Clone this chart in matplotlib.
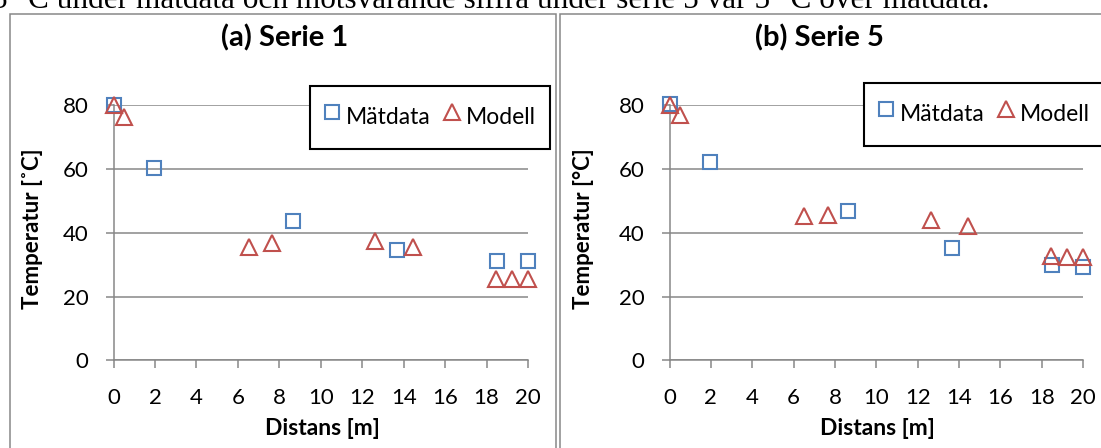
import matplotlib
matplotlib.use("Agg")
import matplotlib.pyplot as plt
from matplotlib.lines import Line2D
from matplotlib.patches import Rectangle
from matplotlib.transforms import Bbox, TransformedBbox

W, H = 1101, 448
DPI = 100

# Sensor / model node positions along the pipe [m]
distans_matdata = [0, 1.95, 8.65, 13.66, 18.5, 20]
distans_modell = [0, 0.52, 6.52, 7.66, 12.63, 14.45, 18.44, 19.25, 20]

# Temperatures [°C]
serie1_matdata = [80, 60.3, 43.8, 34.6, 31.2, 31.2]
serie1_modell = [80, 76.2, 35.6, 36.9, 37.4, 35.5, 25.5, 25.5, 25.5]
serie5_matdata = [80.4, 62.1, 46.8, 35.3, 29.8, 29.3]
serie5_modell = [80, 76.9, 45.2, 45.7, 44.0, 42.2, 32.8, 32.5, 32.3]

x_ticks = list(range(0, 21, 2))
y_ticks = [0, 20, 40, 60, 80]

titles = ["(a) Serie 1", "(b) Serie 5"]
y_labels = ["Temperatur [˚C]", "Temperatur [°C]"]
x_label = "Distans [m]"
legend_labels = ["Mätdata", "Modell"]
caption = "5 °C under mätdata och motsvarande siffra under serie 5 var 5 °C över mätdata."

BLUE = "#4F81BD"
RED = "#C0504D"
GRAY = "#878787"

plt.rcParams["font.family"] = ["Lato", "DejaVu Sans"]


def fx(x):
    return x / W


def fy(y):
    return 1 - y / H


fig = plt.figure(figsize=(W / DPI, H / DPI), dpi=DPI)

# pixel layout of each chart: axis x0, x1, frame left/right, title x, ylabel x, legend box
panels = [
    dict(ax_x0=113.5, ax_x1=528.0, frame=(9.5, 556.0), title_x=285, ylab_x=33,
         xlab_x=322, leg=(310, 85.7), data=(serie1_matdata, serie1_modell)),
    dict(ax_x0=669.5, ax_x1=1083.0, frame=(560.0, 1112.0), title_x=819, ylab_x=584,
         xlab_x=877, leg=(864, 82.7), data=(serie5_matdata, serie5_modell)),
]

AX_Y0 = 360.3   # pixel row of y = 0
AX_Y1 = 105.3   # pixel row of y = 80

for i, p in enumerate(panels):
    ax = fig.add_axes([fx(p["ax_x0"]), fy(AX_Y0), (p["ax_x1"] - p["ax_x0"]) / W,
                       (AX_Y0 - AX_Y1) / H])
    ax.set_xlim(0, 20)
    ax.set_ylim(0, 80)
    ax.set_xticks(x_ticks)
    ax.set_yticks(y_ticks)
    for s in ("top", "right"):
        ax.spines[s].set_visible(False)
    for s in ("left", "bottom"):
        ax.spines[s].set_color(GRAY)
        ax.spines[s].set_linewidth(1.1)
    ax.yaxis.grid(True, color=GRAY, linewidth=1.1)
    ax.set_axisbelow(True)
    ax.tick_params(axis="both", direction="out", length=5.8, width=1.1,
                   color=GRAY, labelsize=16, labelcolor="black")
    ax.tick_params(axis="x", pad=14.0)
    ax.tick_params(axis="y", pad=12.2)

    mat, mod = p["data"]
    ax.plot(distans_matdata, mat, ls="none", marker="s", ms=10, mfc="none",
            mec=BLUE, mew=1.5, clip_on=False, zorder=3)
    ax.plot(distans_modell, mod, ls="none", marker="^", ms=11, mfc="none",
            mec=RED, mew=1.5, clip_on=False, zorder=4)

    ax.set_ylabel(y_labels[i], fontsize=16, fontweight="bold", va="center")
    ax.yaxis.set_label_coords((p["ylab_x"] - p["ax_x0"]) / (p["ax_x1"] - p["ax_x0"]),
                              (AX_Y0 - 228.5) / (AX_Y0 - AX_Y1))
    ax.set_xlabel(x_label, fontsize=16.5, fontweight="bold", va="center")
    ax.xaxis.set_label_coords((p["xlab_x"] - p["ax_x0"]) / (p["ax_x1"] - p["ax_x0"]),
                              (AX_Y0 - 428.5) / (AX_Y0 - AX_Y1))

    handles = [
        Line2D([], [], ls="none", marker="s", ms=10, mfc="none", mec=BLUE, mew=1.5),
        Line2D([], [], ls="none", marker="^", ms=11, mfc="none", mec=RED, mew=1.5),
    ]
    leg = ax.legend(handles, legend_labels, loc="upper left",
                    bbox_to_anchor=(fx(p["leg"][0]), fy(p["leg"][1])),
                    bbox_transform=fig.transFigure, ncol=2, fontsize=16.5,
                    frameon=True, fancybox=False, edgecolor="black", framealpha=1,
                    borderaxespad=0, borderpad=0.6, handlelength=0.7,
                    handleheight=2.0, handletextpad=0.25, columnspacing=0.6,
                    numpoints=1)
    leg.get_frame().set_linewidth(1.5)
    leg.set_zorder(6)
    # the legend is cut off at the chart border
    clip = TransformedBbox(Bbox.from_extents(fx(p["frame"][0]), 0, fx(p["frame"][1]), 1),
                           fig.transFigure)
    for a in leg.findobj():
        a.set_clip_box(clip)
        a.set_clip_on(True)

    fl, fr = p["frame"]
    fig.add_artist(Rectangle((fx(fl), fy(470)), fx(fr) - fx(fl), fy(13.5) - fy(470),
                             transform=fig.transFigure, fill=False, ec=GRAY,
                             lw=1.1, zorder=10))
    fig.text(fx(p["title_x"]), fy(38), titles[i], ha="center", va="center",
             fontsize=21, fontweight="bold")

fig.text(fx(-7.5), fy(7.5), caption, family=["Liberation Serif", "DejaVu Serif"],
         fontsize=22.5, va="baseline", ha="left")

fig.savefig("out.png", dpi=DPI)
